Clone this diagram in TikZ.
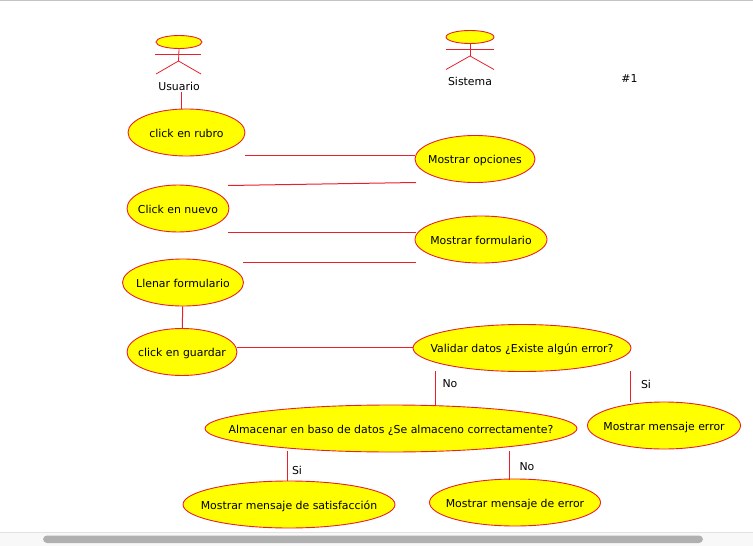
\documentclass[tikz,border=0pt]{standalone}
\usepackage{fontspec}
\setmainfont{DejaVu Sans}
\usetikzlibrary{positioning,shapes.geometric}
\definecolor{barfill}{HTML}{B0B0B0}
\definecolor{barback}{HTML}{F8F8F8}
\definecolor{barline}{HTML}{E2E2E2}
\definecolor{ucfill}{HTML}{FFFF00}
\definecolor{ucline}{HTML}{E8202C}
\newcommand{\uctext}[1]{\smash{\makebox[0pt]{\raisebox{-4.7pt}{#1}}}}

\tikzset{
	usecase/.style={ellipse,draw=ucline,fill=ucfill,line width=0.9pt,inner sep=0pt,font=\fontsize{10.9}{13}\selectfont},
	head/.style={ellipse,draw=ucline,fill=ucfill,line width=0.9pt,inner sep=0pt},
	stick/.style={draw=ucline,line width=0.8pt},
	rel/.style={draw=ucline,line width=1pt},
	lbl/.style={font=\fontsize{10.9}{13}\selectfont,text=black,inner sep=0pt}
}

\begin{document}
\begin{tikzpicture}[x=1pt,y=-1pt]
	\useasboundingbox (0,0) rectangle (753,546);

	% window bits
	\fill[barback] (0,532) rectangle (753,546);
	\draw[barline] (0,532.5) -- (753,532.5);
	\draw[barline!70!gray] (0,0.5) -- (753,0.5);
	\fill[barfill,rounded corners=4pt] (43,535.5) rectangle (703,543);

	% actors
	\node[head,minimum width=46pt,minimum height=13pt](usuario_h) at (179,42){\uctext{}};
	\node[lbl](usuario) at (179,86){Usuario};
	\coordinate (usuario_b) at (178.5,61);
	\coordinate (usuario_s) at (181,92);
	\draw[stick] (usuario_h.south) -- (usuario_b);
	\draw[stick] (155,54.5) -- (201,54.5);
	\draw[stick] (156,74) -- (usuario_b) -- (201,74);

	\node[head,minimum width=48pt,minimum height=13pt](sistema_h) at (470,37){\uctext{}};
	\node[lbl](sistema) at (470,81){Sistema};
	\coordinate (sistema_b) at (470,56);
	\draw[stick] (sistema_h.south) -- (sistema_b);
	\draw[stick] (446,49.5) -- (494,49.5);
	\draw[stick] (446,69.5) -- (sistema_b) -- (494,69.5);

	\node[lbl](num) at (629.5,79){\#1};

	% use cases
	\node[usecase,minimum width=117pt,minimum height=47pt](rubro) at (186.5,132.5){\uctext{click en rubro}};
	\node[usecase,minimum width=120pt,minimum height=47pt](opciones) at (475,159){\uctext{Mostrar opciones}};
	\node[usecase,minimum width=102pt,minimum height=47pt](nuevo) at (178,208.5){\uctext{Click en nuevo}};
	\node[usecase,minimum width=132pt,minimum height=47pt](formulario) at (481,239.5){\uctext{Mostrar formulario}};
	\node[usecase,minimum width=121pt,minimum height=47pt](llenar) at (183,282.5){\uctext{Llenar formulario}};
	\node[usecase,minimum width=110pt,minimum height=47pt](guardar) at (182,352){\uctext{click en guardar}};
	\node[usecase,minimum width=218pt,minimum height=47pt](validar) at (522,348){\uctext{Validar datos ¿Existe algún error?}};
	\node[usecase,minimum width=372pt,minimum height=47pt](almacenar) at (391,428.5){\uctext{Almacenar en baso de datos ¿Se almaceno correctamente?}};
	\node[usecase,minimum width=153pt,minimum height=47pt](msgerror) at (664,425.5){\uctext{Mostrar mensaje error}};
	\node[usecase,minimum width=212pt,minimum height=47pt](satisf) at (289,504.5){\uctext{Mostrar mensaje de satisfacción}};
	\node[usecase,minimum width=171pt,minimum height=47pt](dberror) at (515,502.5){\uctext{Mostrar mensaje de error}};

	% free ends
	\coordinate (c_1) at (245,155.5);
	\coordinate (c_2) at (228,185.5);
	\coordinate (c_3) at (416,182.5);
	\coordinate (c_4) at (228,232.5);
	\coordinate (c_5) at (416,232.5);
	\coordinate (c_6) at (243,262.5);
	\coordinate (c_7) at (416,262.5);
	\coordinate (c_8) at (435,371);
	\coordinate (c_9) at (435,405);
	\coordinate (c_10) at (630.5,371);
	\coordinate (c_11) at (630.5,402);
	\coordinate (c_12) at (287.5,451);
	\coordinate (c_13) at (287.5,481);
	\coordinate (c_14) at (509.5,451);
	\coordinate (c_15) at (509.5,480);
	\coordinate (c_16) at (181,109);
	\coordinate (c_17) at (415,155.5);
	\coordinate (c_18) at (237,347.5);
	\coordinate (c_19) at (413,347.5);

	\path[rel]
	(usuario_s) edge (c_16)
	(c_1) edge (c_17)
	(c_2) edge (c_3)
	(c_4) edge (c_5)
	(c_6) edge (c_7)
	(llenar) edge (guardar)
	(c_18) edge (c_19)
	(c_8) edge (c_9)
	(c_10) edge (c_11)
	(c_12) edge (c_13)
	(c_14) edge (c_15);

	\node[lbl](no_1) at (450,384){No};
	\node[lbl](si_1) at (646,384){Si};
	\node[lbl](si_2) at (297,470){Si};
	\node[lbl](no_2) at (527,467){No};
\end{tikzpicture}
\end{document}
